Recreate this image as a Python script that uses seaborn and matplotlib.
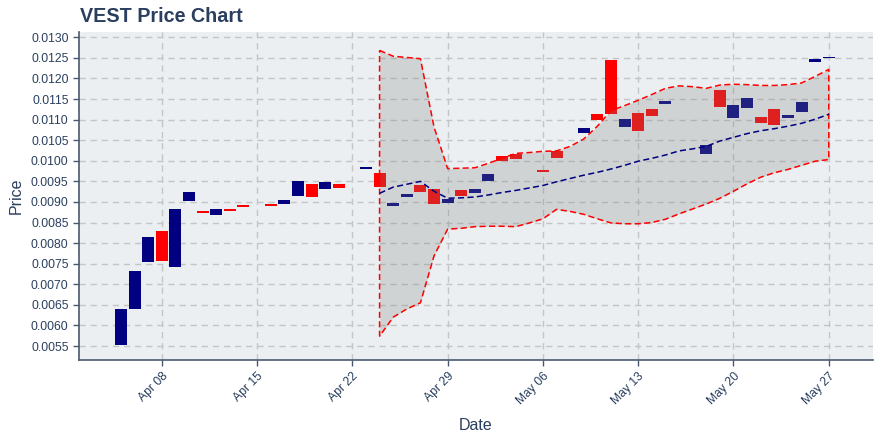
import matplotlib
matplotlib.use("Agg")
import matplotlib.pyplot as plt
import matplotlib.dates as mdates
import pandas as pd
import seaborn as sns

# ---------------- data ----------------
candle_dates = ["2024-04-05", "2024-04-06", "2024-04-07", "2024-04-08", "2024-04-09",
                "2024-04-10", "2024-04-11", "2024-04-12", "2024-04-13", "2024-04-14",
                "2024-04-16", "2024-04-17", "2024-04-18", "2024-04-19", "2024-04-20",
                "2024-04-21", "2024-04-23", "2024-04-24", "2024-04-25", "2024-04-26",
                "2024-04-27", "2024-04-28", "2024-04-29", "2024-04-30", "2024-05-01",
                "2024-05-02", "2024-05-03", "2024-05-04", "2024-05-06", "2024-05-07",
                "2024-05-09", "2024-05-10", "2024-05-11", "2024-05-12", "2024-05-13",
                "2024-05-14", "2024-05-15", "2024-05-18", "2024-05-19", "2024-05-20",
                "2024-05-21", "2024-05-22", "2024-05-23", "2024-05-24", "2024-05-25",
                "2024-05-26", "2024-05-27"]
opens = [0.00553, 0.00640, 0.00754, 0.00829, 0.00742,
         0.00902, 0.00877, 0.00868, 0.00882, 0.00892,
         0.00894, 0.00894, 0.00914, 0.00943, 0.00931,
         0.00943, 0.00979, 0.00971, 0.00889, 0.00913,
         0.00942, 0.00932, 0.00898, 0.00930, 0.00922,
         0.00952, 0.01012, 0.01017, 0.00978, 0.01024,
         0.01068, 0.01114, 0.01245, 0.01083, 0.01117,
         0.01126, 0.01138, 0.01017, 0.01172, 0.01104,
         0.01129, 0.01107, 0.01126, 0.01104, 0.01119,
         0.01240, 0.01250]
closes = [0.00640, 0.00732, 0.00815, 0.00757, 0.00882,
          0.00923, 0.00873, 0.00882, 0.00877, 0.00887,
          0.00890, 0.00904, 0.00950, 0.00911, 0.00948,
          0.00933, 0.00985, 0.00937, 0.00898, 0.00920,
          0.00925, 0.00896, 0.00908, 0.00915, 0.00932,
          0.00968, 0.01000, 0.01005, 0.00972, 0.01007,
          0.01080, 0.01100, 0.01114, 0.01102, 0.01073,
          0.01109, 0.01146, 0.01039, 0.01131, 0.01136,
          0.01153, 0.01092, 0.01087, 0.01112, 0.01143,
          0.01248, 0.01252]

band_dates = ["2024-04-24", "2024-04-25", "2024-04-26", "2024-04-27", "2024-04-28",
              "2024-04-29", "2024-04-30", "2024-05-01", "2024-05-02", "2024-05-03",
              "2024-05-04", "2024-05-05", "2024-05-06", "2024-05-07", "2024-05-08",
              "2024-05-09", "2024-05-10", "2024-05-11", "2024-05-12", "2024-05-13",
              "2024-05-14", "2024-05-15", "2024-05-16", "2024-05-17", "2024-05-18",
              "2024-05-19", "2024-05-20", "2024-05-21", "2024-05-22", "2024-05-23",
              "2024-05-24", "2024-05-25", "2024-05-26", "2024-05-27"]
upper_band = [0.01268, 0.01254, 0.01251, 0.01248, 0.01082,
              0.00981, 0.00982, 0.00983, 0.00994, 0.01006,
              0.01018, 0.01020, 0.01023, 0.01024, 0.01035,
              0.01053, 0.01084, 0.01122, 0.01134, 0.01147,
              0.01161, 0.01176, 0.01182, 0.01180, 0.01176,
              0.01184, 0.01186, 0.01185, 0.01183, 0.01183,
              0.01185, 0.01189, 0.01205, 0.01222]
lower_band = [0.00574, 0.00620, 0.00640, 0.00655, 0.00769,
              0.00834, 0.00836, 0.00840, 0.00841, 0.00841,
              0.00840, 0.00849, 0.00859, 0.00882, 0.00877,
              0.00870, 0.00859, 0.00849, 0.00847, 0.00847,
              0.00850, 0.00858, 0.00871, 0.00883, 0.00895,
              0.00909, 0.00926, 0.00944, 0.00960, 0.00971,
              0.00979, 0.00989, 0.00999, 0.01003]
moving_avg = [0.00921, 0.00936, 0.00943, 0.00950, 0.00926,
              0.00909, 0.00910, 0.00912, 0.00917, 0.00923,
              0.00928, 0.00934, 0.00940, 0.00949, 0.00957,
              0.00965, 0.00972, 0.00980, 0.00989, 0.00999,
              0.01006, 0.01014, 0.01024, 0.01029, 0.01035,
              0.01048, 0.01057, 0.01066, 0.01073, 0.01078,
              0.01084, 0.01091, 0.01101, 0.01113]

y_ticks = [0.0055, 0.0060, 0.0065, 0.0070, 0.0075, 0.0080, 0.0085, 0.0090,
           0.0095, 0.0100, 0.0105, 0.0110, 0.0115, 0.0120, 0.0125, 0.0130]
x_ticks = ["2024-04-08", "2024-04-15", "2024-04-22", "2024-04-29",
           "2024-05-06", "2024-05-13", "2024-05-20", "2024-05-27"]

# ---------------- style ----------------
sns.set_theme(style="white")
plt.rcParams["font.family"] = ["Liberation Sans", "DejaVu Sans"]
TXT = "#2a3f5f"
UP, DOWN = "#000080", "#ff0000"

cdf = pd.DataFrame({"date": pd.to_datetime(candle_dates), "open": opens, "close": closes})
bdf = pd.DataFrame({"date": pd.to_datetime(band_dates), "upper": upper_band,
                    "lower": lower_band, "ma": moving_avg})

fig = plt.figure(figsize=(8.8, 4.4), dpi=100)
ax = fig.add_axes([79 / 880, 1 - 360 / 440, (873 - 79) / 880, (360 - 32) / 440])
ax.set_facecolor("#eceff1")

colors = [UP if c >= o else DOWN for o, c in zip(cdf["open"], cdf["close"])]
ax.bar(cdf["date"], cdf["close"] - cdf["open"], bottom=cdf["open"], width=0.88,
       color=colors, linewidth=0, zorder=2)

ax.fill_between(bdf["date"], bdf["lower"], bdf["upper"], color=(0.5, 0.5, 0.5),
                alpha=0.25, linewidth=0, zorder=3)
outline_x = list(bdf["date"]) + list(bdf["date"][::-1]) + [bdf["date"].iloc[0]]
outline_y = list(bdf["upper"]) + list(bdf["lower"][::-1]) + [bdf["upper"].iloc[0]]
ax.plot(outline_x, outline_y, color=DOWN, lw=1.1, dashes=(4, 2.2), zorder=4)
sns.lineplot(data=bdf, x="date", y="ma", ax=ax, color=UP, lw=1.1, zorder=5)
ax.lines[-1].set_dashes((4, 2.2))

ax.set_xlim(pd.Timestamp("2024-04-01 22:00"), pd.Timestamp("2024-05-30 06:00"))
ax.set_ylim(0.00516, 0.013129)
ax.set_yticks(y_ticks)
ax.set_yticklabels([f"{v:.4f}" for v in y_ticks])
ax.set_xticks(pd.to_datetime(x_ticks))
ax.xaxis.set_major_formatter(mdates.DateFormatter("%b %d"))
for lab in ax.get_xticklabels():
    lab.set_rotation(45)
    lab.set_ha("right")
    lab.set_rotation_mode("anchor")

ax.grid(True, color="#c3c5c7", lw=1, linestyle=(0, (4.5, 3.5)), zorder=0)
ax.set_axisbelow(True)
for s in ["top", "right"]:
    ax.spines[s].set_visible(False)
for s in ["left", "bottom"]:
    ax.spines[s].set_color("#4a5a6e")
    ax.spines[s].set_linewidth(1.2)
ax.tick_params(axis="both", which="major", length=4, width=1, color="#4a5a6e",
               labelsize=8.7, labelcolor=TXT, direction="out", left=True, bottom=True)

ax.set_xlabel("Date", fontsize=11.5, color=TXT, labelpad=8)
ax.set_ylabel("Price", fontsize=11.5, color=TXT, labelpad=5)
fig.text(80 / 880, 1 - 16 / 440, "VEST Price Chart", fontsize=14.2, fontweight="bold",
         color=TXT, ha="left", va="center")

fig.savefig("out.png", dpi=100)
